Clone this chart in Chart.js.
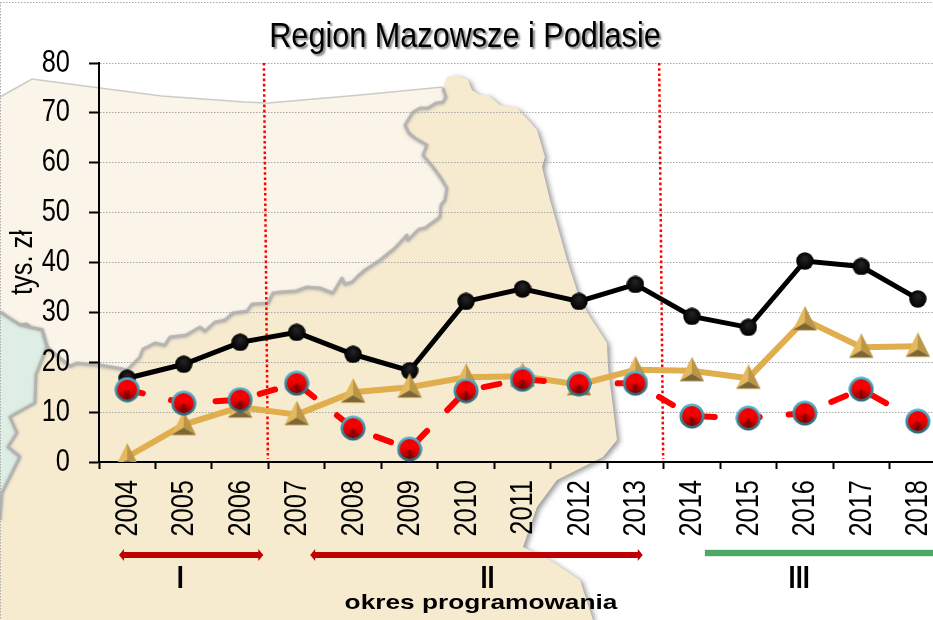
<!DOCTYPE html>
<html><head><meta charset="utf-8">
<style>html,body{margin:0;padding:0;background:#fff;overflow:hidden}
#w{position:relative;width:933px;height:620px;overflow:hidden}
canvas{position:absolute;left:0;top:0}</style>
<script src="https://cdn.jsdelivr.net/npm/chart.js@4/dist/chart.umd.min.js"></script>
</head><body><div id="w"><canvas id="c" width="946" height="620"></canvas></div>
<script>
const years=['2004','2005','2006','2007','2008','2009','2010','2011','2012','2013','2014','2015','2016','2017','2018'];
const blackValues=[16.8,19.6,24,26,21.6,18.3,32.2,34.7,32.2,35.6,29.2,27,40.3,39.2,32.7];
const goldValues=[1,7.5,11,9.5,14,15,17,17.2,15.5,18.5,18.3,16.8,28.5,23,23.2];
const redValues=[14.5,11.8,12.5,15.8,6.8,2.6,14.3,16.6,15.7,15.8,9.2,8.8,9.8,14.6,8.2];
const yTicks=[0,10,20,30,40,50,60,70,80];
const dividers=[2.5,9.5];
const periodArrows=[[-0.146,2.41,'#C00000',true],[3.24,9.13,'#C00000',true],[10.23,14.6,'#4EA866',false]];
const periodLabels=[['I',0.94],['II',6.38],['III',11.9]];

/* background map outline */
const mapNorthEdge=[[0,97],[32,79],[100,88],[162,96],[245,102],[268,103],[360,95],[443,87]];
const mapInner=[[443,88],[446,97],[443,102],[436,103],[428,108],[420,108],[413,112],[405,125],[409,133],[415,138],[427,145],[423,155],[433,167],[441,178],[447,188],[445,200],[441,205],[440,217],[425,228],[419,229],[408,240],[407,235],[395,248],[380,260],[365,270],[358,276],[352,282],[345,284],[342,278],[333,293],[320,288],[307,287],[296,291],[280,292],[273,293],[268,303],[252,304],[247,311],[233,313],[225,320],[215,322],[205,331],[200,327],[186,335],[170,337],[165,345],[155,343],[143,349],[140,357],[127,370],[118,368],[100,365],[77,363],[70,366],[60,358],[47,347],[42,330],[31,328],[27,324],[20,325],[8,320],[0,312]];
const mapOuter=[[443,88],[447,77],[456,75],[468,80],[472,90],[480,95],[488,95],[500,105],[517,108],[530,122],[537,130],[545,157],[542,167],[550,200],[558,228],[567,260],[580,300],[590,317],[607,343],[608,367],[617,440],[603,457],[557,480],[537,507],[523,547],[550,560],[580,580],[593,620]];
const mapGreen=[[0,312],[20,325],[42,330],[47,347],[36,375],[35,403],[10,417],[17,433],[8,447],[20,457],[2,493],[0,520]];

function sphere(){
  const s=26,c=document.createElement('canvas');c.width=c.height=s;const g=c.getContext('2d'),m=s/2;
  let r=g.createLinearGradient(0,0,0,s);r.addColorStop(0,'#55B7D3');r.addColorStop(1,'#2A6676');
  g.fillStyle=r;g.beginPath();g.arc(m,m,m-0.5,0,7);g.fill();
  const d=g.createConicGradient(-Math.PI/2,m,m);
  d.addColorStop(0,'#E80000');d.addColorStop(.12,'#FF0000');d.addColorStop(.3,'#E40000');d.addColorStop(.5,'#7A0000');
  d.addColorStop(.7,'#E40000');d.addColorStop(.88,'#FF0000');d.addColorStop(1,'#E80000');
  g.fillStyle=d;g.beginPath();g.arc(m,m,m-3,0,7);g.fill();
  return c;
}
function pyramid(){
  const c=document.createElement('canvas');c.width=26;c.height=28;const g=c.getContext('2d');
  const poly=(p,f)=>{g.fillStyle=f;g.beginPath();p.forEach((q,i)=>i?g.lineTo(q[0],q[1]):g.moveTo(q[0],q[1]));g.closePath();g.fill();};
  poly([[13,0],[1,24],[13,17]],'#E4B85E');
  poly([[13,0],[25,24],[13,17]],'#BB9548');
  poly([[1,24],[25,24],[13,17]],'#7D6636');
  g.strokeStyle='#C9A050';g.lineWidth=.8;g.beginPath();g.moveTo(1,24.4);g.lineTo(25,24.4);g.stroke();
  return c;
}
function dot(){
  const c=document.createElement('canvas');c.width=c.height=18;const g=c.getContext('2d');
  let r=g.createRadialGradient(9,6,1,9,9,9);r.addColorStop(0,'#222');r.addColorStop(1,'#000');
  g.fillStyle=r;g.beginPath();g.arc(9,9,8.7,0,7);g.fill();return c;
}
function trace(ctx,p,cont){p.forEach((q,i)=>(i||cont)?ctx.lineTo(q[0],q[1]):ctx.moveTo(q[0],q[1]));}

/* the reference's lettering is horizontally squeezed Arial: scale each text run along its own baseline */
const SQUEEZE=0.82;
function patchText(ctx){
  const orig=ctx.fillText;ctx._sx=SQUEEZE;
  ctx.fillText=function(s,x,y,m){this.save();this.translate(x,y);this.scale(this._sx,1);orig.call(this,s,0,0);this.restore();};
}

const decor={id:'decor',
  beforeDraw(chart){
    const ctx=chart.ctx;
    if(!ctx._sx)patchText(ctx);
    const t=chart.titleBlock;
    if(t&&!t._wrapped){const o=t.draw;t._wrapped=true;t.draw=function(){
      const k=this.ctx;k.save();k.translate(465-chart.width/2,0);k._sx=0.875;k.shadowColor='rgba(0,0,0,.5)';k.shadowOffsetX=2;k.shadowOffsetY=2;k.shadowBlur=2;o.apply(this,arguments);k._sx=SQUEEZE;k.restore();};}
    ctx.save();
    ctx.fillStyle='#fff';ctx.fillRect(0,0,chart.width,chart.height);
    /* tan */
    ctx.shadowColor='rgba(90,90,90,.6)';ctx.shadowBlur=5;ctx.shadowOffsetX=3;ctx.shadowOffsetY=2;
    ctx.beginPath();trace(ctx,mapOuter);ctx.lineTo(0,620);ctx.lineTo(0,312);trace(ctx,[...mapInner].reverse(),true);ctx.closePath();
    ctx.fillStyle='#F6EACF';ctx.fill();
    ctx.shadowColor='transparent';ctx.shadowBlur=0;ctx.shadowOffsetX=0;ctx.shadowOffsetY=0;
    /* pale north */
    ctx.beginPath();trace(ctx,mapNorthEdge);trace(ctx,mapInner,true);ctx.closePath();
    ctx.fillStyle='#FBF4E9';ctx.fill();
    ctx.strokeStyle='rgba(195,195,190,.85)';ctx.lineWidth=1.6;
    ctx.beginPath();trace(ctx,mapNorthEdge);ctx.stroke();
    ctx.save();
    ctx.shadowColor='rgba(150,150,150,.8)';ctx.shadowBlur=3;ctx.shadowOffsetX=0;ctx.shadowOffsetY=1;
    ctx.strokeStyle='rgba(178,178,176,.85)';ctx.lineWidth=3;ctx.lineJoin='round';
    ctx.beginPath();trace(ctx,mapInner);ctx.stroke();
    ctx.restore();
    /* green */
    ctx.beginPath();trace(ctx,mapGreen);ctx.closePath();ctx.fillStyle='#DEEEE4';ctx.fill();
    ctx.save();
    ctx.shadowColor='rgba(150,150,150,.8)';ctx.shadowBlur=3;
    ctx.strokeStyle='rgba(178,178,176,.85)';ctx.lineWidth=3;ctx.lineJoin='round';
    ctx.beginPath();trace(ctx,mapGreen);ctx.stroke();
    ctx.restore();
    /* frame */
    ctx.strokeStyle='#aaa';ctx.lineWidth=1;ctx.setLineDash([1.5,1.5]);
    ctx.beginPath();ctx.moveTo(0,2.5);ctx.lineTo(chart.width,2.5);ctx.moveTo(.5,2);ctx.lineTo(.5,620);ctx.stroke();
    ctx.restore();
  },
  beforeDatasetsDraw(chart){
    const ctx=chart.ctx,x=chart.scales.x,a=chart.chartArea;
    const px=v=>x.getPixelForValue(0)+v*(x.getPixelForValue(1)-x.getPixelForValue(0));
    ctx.save();ctx.strokeStyle='#FF0000';ctx.lineWidth=2.5;ctx.setLineDash([2.6,2.6]);
    dividers.forEach(d=>{ctx.beginPath();ctx.moveTo(px(d)-4.5,a.top);ctx.lineTo(px(d)-.5,a.bottom-3);ctx.stroke();});
    ctx.restore();
  },
  afterDraw(chart){
    const ctx=chart.ctx,x=chart.scales.x;
    const px=v=>x.getPixelForValue(0)+v*(x.getPixelForValue(1)-x.getPixelForValue(0));
    ctx.save();
    periodArrows.forEach(([f,t,col,tips])=>{
      const x0=px(f),x1=px(t),y=tips?555:553,h=tips?3:3.2;
      ctx.fillStyle=col;
      ctx.fillRect(x0+(tips?4:0),y-h,x1-x0-(tips?8:0),2*h);
      if(tips){ctx.beginPath();ctx.moveTo(x0,y);ctx.lineTo(x0+5,y-6);ctx.lineTo(x0+5,y+6);ctx.closePath();ctx.moveTo(x1,y);ctx.lineTo(x1-5,y-6);ctx.lineTo(x1-5,y+6);ctx.closePath();ctx.fill();}
    });
    ctx.fillStyle='#000';ctx.textAlign='center';ctx.textBaseline='alphabetic';
    ctx.font='bold 31px "Liberation Sans"';
    periodLabels.forEach(([s,v])=>ctx.fillText(s,px(v),588));
    ctx.font='bold 21px "Liberation Sans"';
    ctx._sx=1.25;
    ctx.fillText('okres programowania',481,609);
    ctx._sx=SQUEEZE;
    ctx.restore();
  }
};

new Chart(document.getElementById('c'),{
  type:'line',
  data:{labels:years,datasets:[
    {label:'czerwona',data:redValues,borderColor:'#FF0000',borderWidth:6,borderDash:[16,29],borderCapStyle:'round',pointStyle:sphere(),pointRadius:13,tension:0,fill:false},
    {label:'złota',data:goldValues,borderColor:'#E0AE4C',borderWidth:6,pointStyle:pyramid(),pointRadius:13,tension:0,fill:false},
    {label:'czarna',data:blackValues,borderColor:'#000',borderWidth:5,pointStyle:dot(),pointRadius:9,tension:0,fill:false}
  ]},
  options:{
    responsive:false,animation:false,
    layout:{autoPadding:false,padding:0},
    plugins:{legend:{display:false},tooltip:{enabled:false},
      title:{display:true,text:'Region Mazowsze i Podlasie',color:'#000',font:{family:'"Liberation Sans"',size:35,weight:'normal'},padding:{top:16,bottom:5}}},
    scales:{
      x:{type:'category',offset:true,
        grid:{offset:true,drawOnChartArea:false,color:'#000',tickColor:'#000',tickWidth:2,tickLength:7},
        border:{color:'#000',width:2},
        ticks:{color:'#000',font:{family:'"Liberation Sans"',size:31},minRotation:90,maxRotation:90,padding:11,labelOffset:1,autoSkip:false},
        afterFit(s){s.height=158;s.paddingRight=0;s.paddingLeft=0;}},
      y:{min:0,max:80,
        afterBuildTicks(s){s.ticks=yTicks.map(v=>({value:v}));},
        grid:{color:'#A8A8A8',lineWidth:1,tickColor:'#000',tickWidth:2,tickLength:10,tickBorderDash:[]},
        border:{color:'#000',width:2,dash:[1.5,1.5]},
        ticks:{color:'#000',font:{family:'"Liberation Sans"',size:31},padding:19},
        title:{display:true,text:'tys. zł',color:'#000',font:{family:'"Liberation Sans"',size:31,weight:'normal'},padding:{top:5,bottom:0}},
        afterFit(s){s.width=99;}}
    }
  },
  plugins:[decor]
});
</script></body></html>
